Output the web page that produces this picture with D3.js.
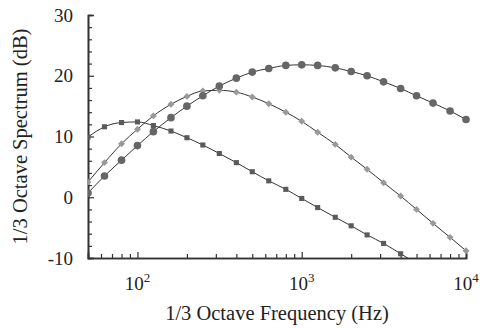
<!DOCTYPE html>
<html>
<head>
<meta charset="utf-8">
<script src="https://cdn.jsdelivr.net/npm/d3@7"></script>
<style>
  body { margin: 0; background: #fff; }
  text { font-family: "Liberation Serif", "DejaVu Serif", serif; fill: #222; }
</style>
</head>
<body>
<div id="chart"></div>
<script>
// 1/3 octave band centre frequencies (Hz)
var freqs = [50, 63, 80, 100, 125, 160, 200, 250, 315, 400, 500, 630, 800,
    1000, 1250, 1600, 2000, 2500, 3150, 4000, 5000, 6300, 8000, 10000];

// spectrum levels (dB)
var circleSeries = [0.7, 3.5, 6.1, 8.5, 10.8, 13.1, 15.0, 16.7, 18.3, 19.6, 20.6, 21.2, 21.7,
    21.8, 21.7, 21.3, 20.7, 20.0, 19.0, 17.9, 16.7, 15.5, 14.2, 12.8];
var diamondSeries = [2.5, 5.7, 8.8, 11.2, 13.4, 15.3, 16.6, 17.5, 17.6, 17.3, 16.5, 15.4, 14.0,
    12.5, 10.7, 8.7, 6.6, 4.6, 2.4, 0.2, -2.0, -4.3, -6.6, -8.8];
var squareSeries = [9.9, 11.6, 12.3, 12.4, 11.8, 10.9, 9.8, 8.6, 7.2, 5.7, 4.2, 2.7, 1.3,
    -0.2, -1.7, -3.3, -4.7, -6.2, -7.6, -9.3, -10.9];

var yTicks = [-10, 0, 10, 20, 30];
var xTicks = [100, 1000, 10000];

function init() {
    var w = 480;
    var h = 328;
    var margin = { left: 88, right: 14, top: 15, bottom: 70 };

    var xScale = d3.scaleLog()
        .domain([50, 10000])
        .range([margin.left, w - margin.right]);

    var yScale = d3.scaleLinear()
        .domain([-10, 30])
        .range([h - margin.bottom, margin.top]);

    var svg = d3.select("#chart")
        .append("svg")
        .attr("width", w)
        .attr("height", h);

    svg.append("clipPath")
        .attr("id", "plotClip")
        .append("rect")
        .attr("x", margin.left)
        .attr("y", margin.top - 5)
        .attr("width", w - margin.left - margin.right + 6)
        .attr("height", h - margin.top - margin.bottom + 5);

    // minor ticks, every 2 dB on y and 2..9 per decade on x
    var yMinor = d3.range(-10, 31, 2).filter(function (v) { return v % 10 !== 0; });
    var xMinor = xScale.ticks().filter(function (f) {
        return xTicks.indexOf(f) < 0 && f > 50 && f < 10000;
    });

    var yAxis = d3.axisRight(yScale)
        .tickValues(yTicks)
        .tickSize(6)
        .tickFormat("");

    var yAxisMinor = d3.axisRight(yScale)
        .tickValues(yMinor)
        .tickSize(4)
        .tickFormat("");

    var xAxis = d3.axisTop(xScale)
        .tickValues(xTicks)
        .tickSize(6)
        .tickFormat("");

    var xAxisMinor = d3.axisTop(xScale)
        .tickValues(xMinor)
        .tickSize(4)
        .tickFormat("");

    [yAxis, yAxisMinor].forEach(function (ax) {
        svg.append("g")
            .attr("class", "axis")
            .attr("transform", "translate(" + margin.left + ",0)")
            .call(ax);
    });
    [xAxis, xAxisMinor].forEach(function (ax) {
        svg.append("g")
            .attr("class", "axis")
            .attr("transform", "translate(0," + (h - margin.bottom) + ")")
            .call(ax);
    });
    svg.selectAll(".axis path").attr("stroke", "#333").attr("stroke-width", 1.6);
    svg.selectAll(".axis line").attr("stroke", "#333").attr("stroke-width", 1.2);

    // tick labels
    svg.selectAll(".ylab")
        .data(yTicks)
        .enter()
        .append("text")
        .attr("class", "ylab")
        .attr("x", margin.left - 15)
        .attr("y", function (d) { return yScale(d) + 6.5; })
        .attr("text-anchor", "end")
        .style("font-size", "19px")
        .text(function (d) { return d; });

    var xl = svg.selectAll(".xlab")
        .data(xTicks)
        .enter()
        .append("text")
        .attr("class", "xlab")
        .attr("x", function (d) { return xScale(d); })
        .attr("y", h - margin.bottom + 32)
        .attr("text-anchor", "middle")
        .style("font-size", "19px");
    xl.append("tspan").text("10");
    xl.append("tspan")
        .attr("dy", -8)
        .style("font-size", "13px")
        .text(function (d) { return Math.round(Math.log10(d)); });

    // axis titles
    svg.append("text")
        .attr("x", (margin.left + w - margin.right) / 2)
        .attr("y", h - 8)
        .attr("text-anchor", "middle")
        .style("font-size", "20.5px")
        .text("1/3 Octave Frequency (Hz)");

    svg.append("text")
        .attr("transform", "translate(27," + ((margin.top + h - margin.bottom) / 2) + ") rotate(-90)")
        .attr("text-anchor", "middle")
        .style("font-size", "20.5px")
        .text("1/3 Octave Spectrum (dB)");

    var plot = svg.append("g").attr("clip-path", "url(#plotClip)");

    function series(values, shape, fill, size, angle) {
        var pts = values.map(function (v, i) { return { f: freqs[i], v: v }; });
        var line = d3.line()
            .curve(d3.curveMonotoneX)
            .x(function (d) { return xScale(d.f); })
            .y(function (d) { return yScale(d.v); });

        plot.append("path")
            .datum(pts)
            .attr("fill", "none")
            .attr("stroke", "#333")
            .attr("stroke-width", 1)
            .attr("d", line);

        plot.selectAll(null)
            .data(pts)
            .enter()
            .append("path")
            .attr("transform", function (d) {
                return "translate(" + xScale(d.f) + "," + yScale(d.v) + ") rotate(" + angle + ")";
            })
            .attr("d", d3.symbol().type(shape).size(size))
            .attr("fill", fill);
    }

    series(squareSeries, d3.symbolSquare, "#5a5a5a", 26, 0);
    series(diamondSeries, d3.symbolSquare, "#999", 24, 45);
    series(circleSeries, d3.symbolCircle, "#666", 46, 0);
}

window.onload = init;
</script>
</body>
</html>
